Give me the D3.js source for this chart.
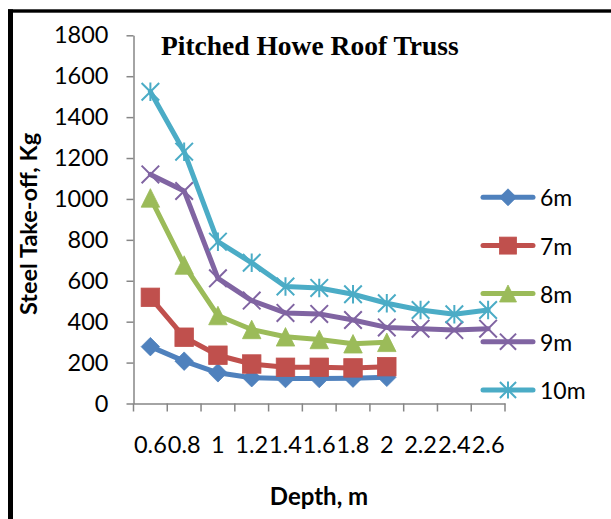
<!DOCTYPE html>
<html>
<head>
<meta charset="utf-8">
<script src="https://cdn.jsdelivr.net/npm/d3@7/dist/d3.min.js"></script>
<style>
  html, body { margin: 0; padding: 0; background: #fff; }
  svg { display: block; }
</style>
</head>
<body>
<svg id="chart" width="611" height="519"></svg>
<script>
// Depth categories along the x axis (m)
const depths = ["0.6", "0.8", "1", "1.2", "1.4", "1.6", "1.8", "2", "2.2", "2.4", "2.6"];

// Steel take-off (kg) for each span
const span6m  = [278, 207, 150, 126, 122, 122, 124, 128];
const span7m  = [519, 324, 236, 193, 177, 177, 174, 180];
const span8m  = [1005, 677, 430, 362, 326, 313, 292, 299];
const span9m  = [1120, 1039, 612, 503, 443, 438, 408, 372, 366, 359, 366];
const span10m = [1524, 1231, 791, 688, 572, 565, 534, 490, 457, 436, 457];

const spanNames = ["6m", "7m", "8m", "9m", "10m"];
const yTicks = [0, 200, 400, 600, 800, 1000, 1200, 1400, 1600, 1800];

const seriesList = [
  { name: spanNames[0], values: span6m,  color: "#4F81BD", marker: "diamond" },
  { name: spanNames[1], values: span7m,  color: "#C0504D", marker: "square" },
  { name: spanNames[2], values: span8m,  color: "#9BBB59", marker: "triangle" },
  { name: spanNames[3], values: span9m,  color: "#8064A2", marker: "x" },
  { name: spanNames[4], values: span10m, color: "#4BACC6", marker: "star" }
];

const svg = d3.select("#chart");
const sansFont = "Lato, 'Liberation Sans', sans-serif";
const axisGrey = "#868686";

// Outer frame (left and top edges)
svg.append("rect").attr("x", 8).attr("y", 9.3).attr("width", 5).attr("height", 510).attr("fill", "#000");
svg.append("rect").attr("x", 8).attr("y", 9.3).attr("width", 603).attr("height", 3.4).attr("fill", "#000");

const plot = { left: 133.5, right: 505, top: 35.3, bottom: 403.5 };

const x = d3.scaleBand().domain(depths).range([plot.left, plot.right]).padding(0);
const y = d3.scaleLinear().domain([0, 1800]).range([plot.bottom, plot.top]);

// Y axis
const yAxis = svg.append("g")
  .attr("transform", `translate(${plot.left},0)`)
  .call(d3.axisLeft(y).tickValues(yTicks).tickFormat(d3.format("d"))
    .tickSizeInner(7).tickSizeOuter(0).tickPadding(18));
yAxis.select(".domain").attr("stroke", axisGrey).attr("stroke-width", 1.5);
yAxis.selectAll(".tick line").attr("stroke", axisGrey).attr("stroke-width", 1.5);
yAxis.selectAll(".tick text")
  .attr("fill", "#000")
  .style("font-family", sansFont)
  .style("font-size", "23.5px");

// X axis: labels centred in each category, tick marks on category boundaries
const xAxis = svg.append("g")
  .attr("transform", `translate(0,${plot.bottom})`)
  .call(d3.axisBottom(x).tickSizeInner(0).tickSizeOuter(0).tickPadding(33));
xAxis.select(".domain").attr("stroke", axisGrey).attr("stroke-width", 1.5);
xAxis.selectAll(".tick text")
  .attr("fill", "#000")
  .style("font-family", sansFont)
  .style("font-size", "23.5px");
const boundaries = depths.map(d => x(d)).concat([x(depths[depths.length - 1]) + x.bandwidth()]);
xAxis.selectAll(".bound")
  .data(boundaries)
  .enter().append("line")
  .attr("class", "bound")
  .attr("x1", d => d).attr("x2", d => d)
  .attr("y1", 0).attr("y2", 8)
  .attr("stroke", axisGrey).attr("stroke-width", 1.5);

// Marker shapes
function drawMarker(g, type, color, cx, cy, s) {
  const h = s / 2;
  if (type === "diamond") {
    g.append("path")
      .attr("d", `M${cx},${cy - h}L${cx + h},${cy}L${cx},${cy + h}L${cx - h},${cy}Z`)
      .attr("fill", color).attr("stroke", color).attr("stroke-width", 0.8);
  } else if (type === "square") {
    g.append("rect")
      .attr("x", cx - h).attr("y", cy - h).attr("width", s).attr("height", s)
      .attr("fill", color).attr("stroke", color).attr("stroke-width", 0.8);
  } else if (type === "triangle") {
    g.append("path")
      .attr("d", `M${cx},${cy - h}L${cx + h},${cy + h}L${cx - h},${cy + h}Z`)
      .attr("fill", color).attr("stroke", color).attr("stroke-width", 0.8);
  } else if (type === "x" || type === "star") {
    const k = h * 0.95;
    let d = `M${cx - k},${cy - k}L${cx + k},${cy + k}M${cx - k},${cy + k}L${cx + k},${cy - k}`;
    if (type === "star") d += `M${cx},${cy - h}L${cx},${cy + h}`;
    g.append("path").attr("d", d)
      .attr("fill", "none").attr("stroke", color).attr("stroke-width", 2);
  }
}

const line = d3.line()
  .x((d, i) => x(depths[i]) + x.bandwidth() / 2)
  .y(d => y(d));

// Series: line then markers, in order
seriesList.forEach(s => {
  const g = svg.append("g").attr("class", "series");
  g.append("path")
    .datum(s.values)
    .attr("d", line)
    .attr("fill", "none")
    .attr("stroke", s.color)
    .attr("stroke-width", 5)
    .attr("stroke-linejoin", "round")
    .attr("stroke-linecap", "round");
  s.values.forEach((v, i) => {
    drawMarker(g, s.marker, s.color, x(depths[i]) + x.bandwidth() / 2, y(v), 18.5);
  });
});

// Legend
const legendY = [197.3, 245.6, 293.5, 341.7, 390];
seriesList.forEach((s, i) => {
  const g = svg.append("g").attr("class", "legend-item");
  g.append("line")
    .attr("x1", 483).attr("x2", 533)
    .attr("y1", legendY[i]).attr("y2", legendY[i])
    .attr("stroke", s.color).attr("stroke-width", 5).attr("stroke-linecap", "round");
  drawMarker(g, s.marker, s.color, 508, legendY[i], 17);
  g.append("text")
    .attr("x", 540).attr("y", legendY[i])
    .attr("dominant-baseline", "central")
    .style("font-family", sansFont)
    .style("font-size", "23px")
    .text(s.name);
});

// Title
svg.append("text")
  .attr("x", 161).attr("y", 55)
  .style("font-family", "'Liberation Serif', 'Times New Roman', serif")
  .style("font-weight", "bold")
  .style("font-size", "27.5px")
  .text("Pitched Howe Roof Truss");

// Axis titles
svg.append("text")
  .attr("transform", "translate(37,224) rotate(-90)")
  .attr("text-anchor", "middle")
  .style("font-family", sansFont)
  .style("font-weight", "bold")
  .style("font-size", "23.5px")
  .text("Steel Take-off, Kg");

svg.append("text")
  .attr("x", 319).attr("y", 505)
  .attr("text-anchor", "middle")
  .style("font-family", sansFont)
  .style("font-weight", "bold")
  .style("font-size", "24px")
  .text("Depth, m");
</script>
</body>
</html>
